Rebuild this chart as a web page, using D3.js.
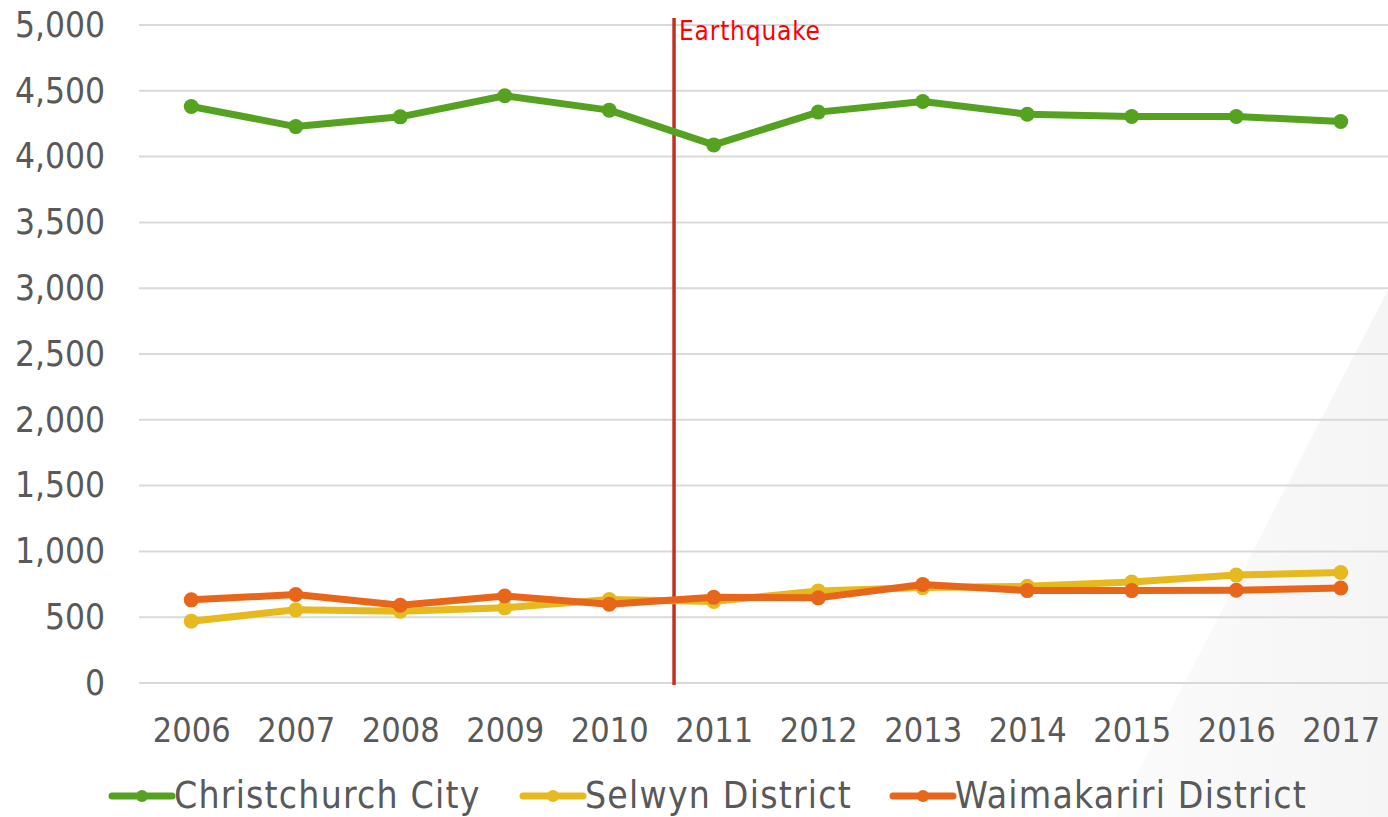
<!DOCTYPE html>
<html>
<head>
<meta charset="utf-8">
<script src="https://cdn.jsdelivr.net/npm/d3@7"></script>
<style>
  body { margin: 0; background: #fff; }
  .chart text { font-family: "DejaVu Sans Condensed", "DejaVu Sans", sans-serif; }
</style>
</head>
<body>
<div class="chart"></div>
<script>
// Data
const years = [2006, 2007, 2008, 2009, 2010, 2011, 2012, 2013, 2014, 2015, 2016, 2017];
const christchurch = [4381, 4228, 4302, 4462, 4353, 4089, 4338, 4419, 4322, 4305, 4305, 4267];
const selwyn = [470, 556, 545, 571, 635, 620, 700, 725, 735, 768, 820, 840];
const waimakariri = [632, 672, 591, 661, 599, 651, 647, 748, 702, 702, 705, 722];
const seriesNames = ['Christchurch City', 'Selwyn District', 'Waimakariri District'];
const seriesColors = ['#55a221', '#e6b91e', '#e8661a'];
const yTicks = [0, 500, 1000, 1500, 2000, 2500, 3000, 3500, 4000, 4500, 5000];
const earthquakeYear = 2010.62;
const earthquakeLabel = 'Earthquake';

const width = 1388, height = 817;
const margin = { top: 25, right: 0, bottom: 134, left: 139 };

const svg = d3.select('.chart').append('svg')
    .attr('width', width)
    .attr('height', height);

// soft grey background wedge in the bottom right corner
const defs = svg.append('defs');
const grad = defs.append('linearGradient').attr('id', 'wedge')
    .attr('x1', 0).attr('y1', 0).attr('x2', 1).attr('y2', 0);
grad.append('stop').attr('offset', '0%').attr('stop-color', '#fbfbfb');
grad.append('stop').attr('offset', '100%').attr('stop-color', '#f5f5f5');
svg.append('path')
    .attr('d', `M${width},290L${width},${height}L1115,${height}Z`)
    .attr('fill', 'url(#wedge)');

// Scales
const xScale = d3.scaleLinear()
    .domain([years[0] - 0.5, years[years.length - 1] + 0.5])
    .range([margin.left, 1393]);
const yScale = d3.scaleLinear()
    .domain([0, 5000])
    .range([683, margin.top]);

// Gridlines
svg.append('g')
    .selectAll('line')
    .data(yTicks)
    .join('line')
    .attr('x1', margin.left)
    .attr('x2', width)
    .attr('y1', d => yScale(d))
    .attr('y2', d => yScale(d))
    .attr('stroke', '#d9d9d9')
    .attr('stroke-width', 2);

// Y axis labels
const yAxis = svg.append('g')
    .attr('transform', `translate(${margin.left},0)`)
    .call(d3.axisLeft(yScale).tickValues(yTicks).tickFormat(d3.format(',')).tickSize(0).tickPadding(34));
yAxis.select('.domain').remove();
yAxis.selectAll('text')
    .attr('fill', '#595959')
    .style('font-size', '35px');

// X axis labels
const xAxis = svg.append('g')
    .attr('transform', `translate(0,683)`)
    .call(d3.axisBottom(xScale).tickValues(years).tickFormat(d3.format('d')).tickSize(0).tickPadding(35));
xAxis.select('.domain').remove();
xAxis.selectAll('text')
    .attr('fill', '#595959')
    .style('font-size', '34px');

// Earthquake marker
svg.append('line')
    .attr('x1', xScale(earthquakeYear))
    .attr('x2', xScale(earthquakeYear))
    .attr('y1', 18)
    .attr('y2', 685)
    .attr('stroke', '#c4301f')
    .attr('stroke-width', 3.5);
svg.append('text')
    .attr('x', xScale(earthquakeYear) + 5)
    .attr('y', 40)
    .attr('fill', '#ff0000')
    .style('font-size', '26px')
    .style('letter-spacing', '0.8px')
    .text(earthquakeLabel);

// Lines
const allSeries = [christchurch, selwyn, waimakariri];
const lineGenerator = d3.line()
    .x((d, i) => xScale(years[i]))
    .y(d => yScale(d));

// draw in order: christchurch, selwyn, waimakariri (orange on top)
allSeries.forEach((values, s) => {
    svg.append('path')
        .datum(values)
        .attr('d', lineGenerator)
        .attr('fill', 'none')
        .attr('stroke', seriesColors[s])
        .attr('stroke-width', 7)
        .attr('stroke-linejoin', 'round');

    svg.append('g')
        .selectAll('circle')
        .data(values)
        .join('circle')
        .attr('cx', (d, i) => xScale(years[i]))
        .attr('cy', d => yScale(d))
        .attr('r', 7.5)
        .attr('fill', seriesColors[s]);
});

// Legend
const legendX = [112, 523, 893];
const legend = svg.append('g').attr('transform', 'translate(0,796)');
seriesNames.forEach((name, i) => {
    const g = legend.append('g').attr('transform', `translate(${legendX[i]},0)`);
    g.append('line')
        .attr('x1', 0).attr('x2', 60)
        .attr('y1', 0).attr('y2', 0)
        .attr('stroke', seriesColors[i])
        .attr('stroke-width', 7)
        .attr('stroke-linecap', 'round');
    g.append('circle')
        .attr('cx', 30).attr('cy', 0).attr('r', 6)
        .attr('fill', seriesColors[i]);
    g.append('text')
        .attr('x', 62)
        .attr('y', 12)
        .attr('fill', '#595959')
        .style('font-size', '37px')
        .style('letter-spacing', '1.2px')
        .text(name);
});
</script>
</body>
</html>
